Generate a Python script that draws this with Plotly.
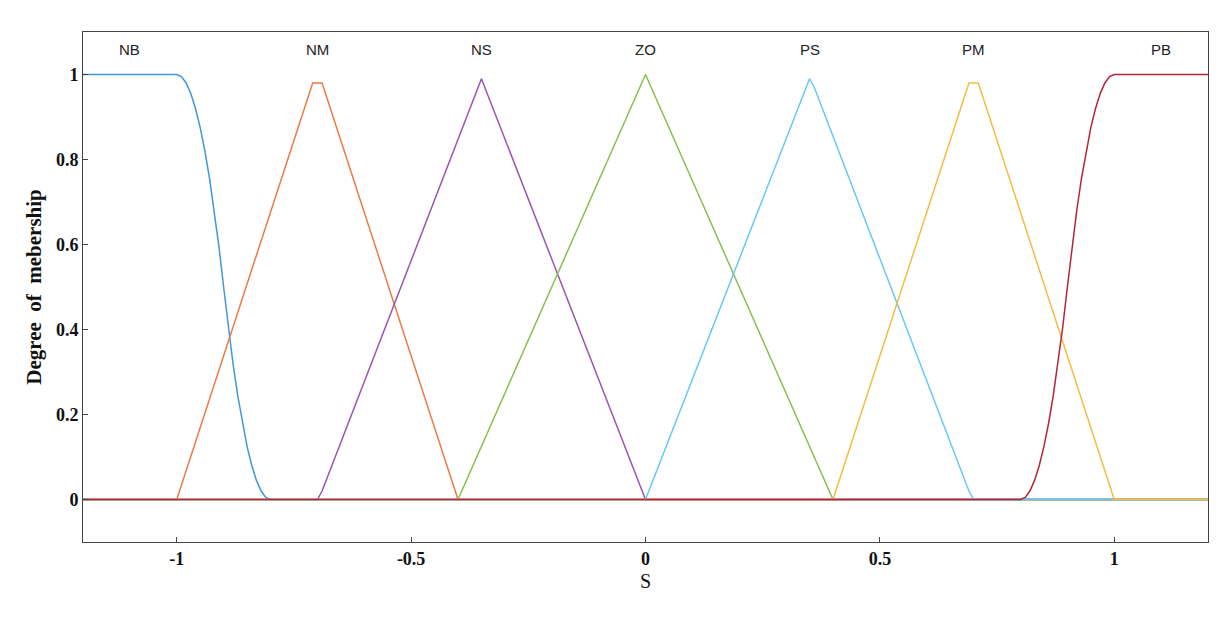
import plotly.graph_objects as go

labels = ["NB", "NM", "NS", "ZO", "PS", "PM", "PB"]
label_x = [-1.1, -0.7, -0.35, 0.0, 0.35, 0.7, 1.1]
colors = ["#3f97dc", "#ec7a45", "#9a55b0", "#8cbf50", "#66c9f2", "#f4bd42", "#b2253f"]

nb_x = [-1.2, -1.0, -0.99, -0.98, -0.97, -0.96, -0.95, -0.94, -0.93, -0.92, -0.91, -0.9,
        -0.89, -0.88, -0.87, -0.86, -0.85, -0.84, -0.83, -0.82, -0.81, -0.8, 1.2]
nb_y = [1.0, 1.0, 0.995, 0.98, 0.955, 0.92, 0.875, 0.82, 0.755, 0.68, 0.595, 0.5,
        0.405, 0.32, 0.245, 0.18, 0.125, 0.08, 0.045, 0.02, 0.005, 0.0, 0.0]
nm_x = [-1.2, -1.0, -0.71, -0.69, -0.4, 1.2]
nm_y = [0.0, 0.0, 0.98, 0.98, 0.0, 0.0]
ns_x = [-1.2, -0.7, -0.69, -0.35, 0.0, 1.2]
ns_y = [0.0, 0.0, 0.02, 0.99, 0.0, 0.0]
zo_x = [-1.2, -0.4, 0.0, 0.4, 1.2]
zo_y = [0.0, 0.0, 1.0, 0.0, 0.0]
ps_x = [-1.2, 0.0, 0.35, 0.36, 0.69, 0.7, 1.2]
ps_y = [0.0, 0.0, 0.99, 0.97, 0.02, 0.0, 0.0]
pm_x = [-1.2, 0.4, 0.69, 0.71, 1.0, 1.2]
pm_y = [0.0, 0.0, 0.98, 0.98, 0.0, 0.0]
pb_x = [-1.2, 0.8, 0.81, 0.82, 0.83, 0.84, 0.85, 0.86, 0.87, 0.88, 0.89, 0.9,
        0.91, 0.92, 0.93, 0.94, 0.95, 0.96, 0.97, 0.98, 0.99, 1.0, 1.2]
pb_y = [0.0, 0.0, 0.005, 0.02, 0.045, 0.08, 0.125, 0.18, 0.245, 0.32, 0.405, 0.5,
        0.595, 0.68, 0.755, 0.82, 0.875, 0.92, 0.955, 0.98, 0.995, 1.0, 1.0]

series = [(nb_x, nb_y), (nm_x, nm_y), (ns_x, ns_y), (zo_x, zo_y), (ps_x, ps_y), (pm_x, pm_y), (pb_x, pb_y)]
x_ticks = [-1, -0.5, 0, 0.5, 1]
y_ticks = [0, 0.2, 0.4, 0.6, 0.8, 1]

fig = go.Figure()
for i, (xs, ys) in enumerate(series):
    fig.add_trace(go.Scatter(x=xs, y=ys, mode="lines",
                             line=dict(color=colors[i], width=1.5), showlegend=False))
for lab, lx in zip(labels, label_x):
    fig.add_annotation(x=lx, y=1.06, text=lab, showarrow=False,
                       font=dict(family="Liberation Sans", size=15, color="#222"))

axis_common = dict(showline=True, linecolor="#444", linewidth=1, mirror=True, showgrid=False,
                   zeroline=False, ticks="inside", ticklen=5, tickcolor="#444",
                   tickfont=dict(family="Liberation Serif", size=18, color="#111"))
fig.update_xaxes(range=[-1.2, 1.2], tickvals=x_ticks, ticktext=["<b>-1</b>", "<b>-0.5</b>", "<b>0</b>", "<b>0.5</b>", "<b>1</b>"],
                 title=dict(text="S", font=dict(family="Liberation Serif", size=20, color="#111"), standoff=6),
                 **axis_common)
fig.update_yaxes(range=[-0.1, 1.1], tickvals=y_ticks, ticktext=["<b>0</b>", "<b>0.2</b>", "<b>0.4</b>", "<b>0.6</b>", "<b>0.8</b>", "<b>1</b>"],
                 title=dict(text="<b>Degree  of  mebership</b>", font=dict(family="Liberation Serif", size=21, color="#111"), standoff=8),
                 **axis_common)
fig.update_layout(width=1230, height=622, plot_bgcolor="white", paper_bgcolor="white",
                  margin=dict(l=75, r=30, t=24, b=88))
fig.write_html("out.html")
